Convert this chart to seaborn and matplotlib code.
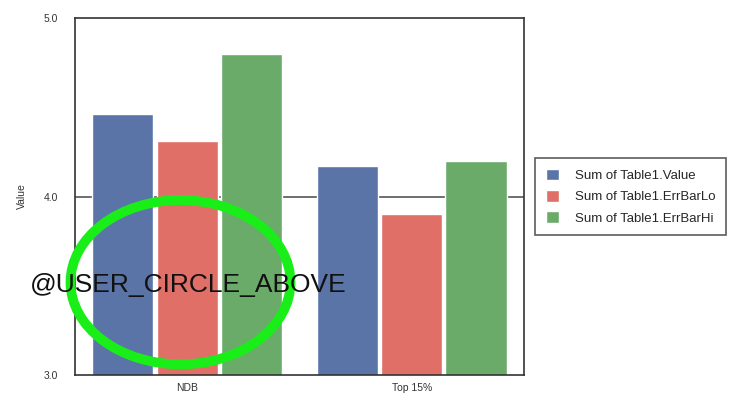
import numpy as np
import pandas as pd
import matplotlib
matplotlib.use("Agg")
import matplotlib.pyplot as plt
import seaborn as sns
from matplotlib.patches import Ellipse

categories = ["NDB", "Top 15%"]
series = ["Sum of Table1.Value", "Sum of Table1.ErrBarLo", "Sum of Table1.ErrBarHi"]
value = [4.46, 4.17]
err_lo = [4.31, 3.90]
err_hi = [4.80, 4.20]
colors = ["#5a74a8", "#df6f67", "#6aab6a"]

df = pd.DataFrame({
    "category": categories * 3,
    "series": np.repeat(series, len(categories)),
    "Value": value + err_lo + err_hi,
})

sns.set_style("white")
plt.rcParams["font.family"] = ["Liberation Sans", "DejaVu Sans"]
fig = plt.figure(figsize=(7.39, 3.99), dpi=100)
ax = fig.add_axes([0.1015, 0.060, 0.6075, 0.895])

sns.barplot(data=df, x="category", y="Value", hue="series", hue_order=series,
            palette=colors, width=0.86, gap=0.05, saturation=1, ax=ax, legend=True)

ax.set_ylim(3.0, 5.0)
ax.set_xlim(-0.5, 1.5)
ax.set_yticks([3.0, 4.0, 5.0])
ax.set_yticklabels(["3.0", "4.0", "5.0"], fontsize=7.5, color="#333333")
ax.tick_params(axis="x", labelsize=7.5, length=0, pad=6, labelcolor="#333333")
ax.tick_params(axis="y", length=0, pad=12)
ax.set_xlabel("")
ax.set_ylabel("Value", fontsize=7.5, labelpad=12, color="#333333")
ax.axhline(4.0, color="#555555", lw=1.2, zorder=0)
for s in ax.spines.values():
    s.set_color("#333333")
    s.set_linewidth(1.2)

leg = ax.legend(loc="upper left", bbox_to_anchor=(0.724, 0.604), bbox_transform=fig.transFigure,
                borderaxespad=0, fontsize=9.5, frameon=True, fancybox=False, edgecolor="#333333",
                handlelength=1.0, handleheight=1.0, handletextpad=1.2,
                borderpad=0.8, labelspacing=0.6)
leg.get_frame().set_linewidth(1.2)

# user annotation overlay
ell = Ellipse((-0.03, 3.52), 0.98, 0.92, fill=False, edgecolor="#19ee19", lw=7, clip_on=False, zorder=5)
ax.add_patch(ell)
fig.text(0.041, 0.286, "@USER_CIRCLE_ABOVE", fontsize=19, color="#111111", va="center", ha="left", zorder=6)

fig.savefig("out.png", dpi=100)
